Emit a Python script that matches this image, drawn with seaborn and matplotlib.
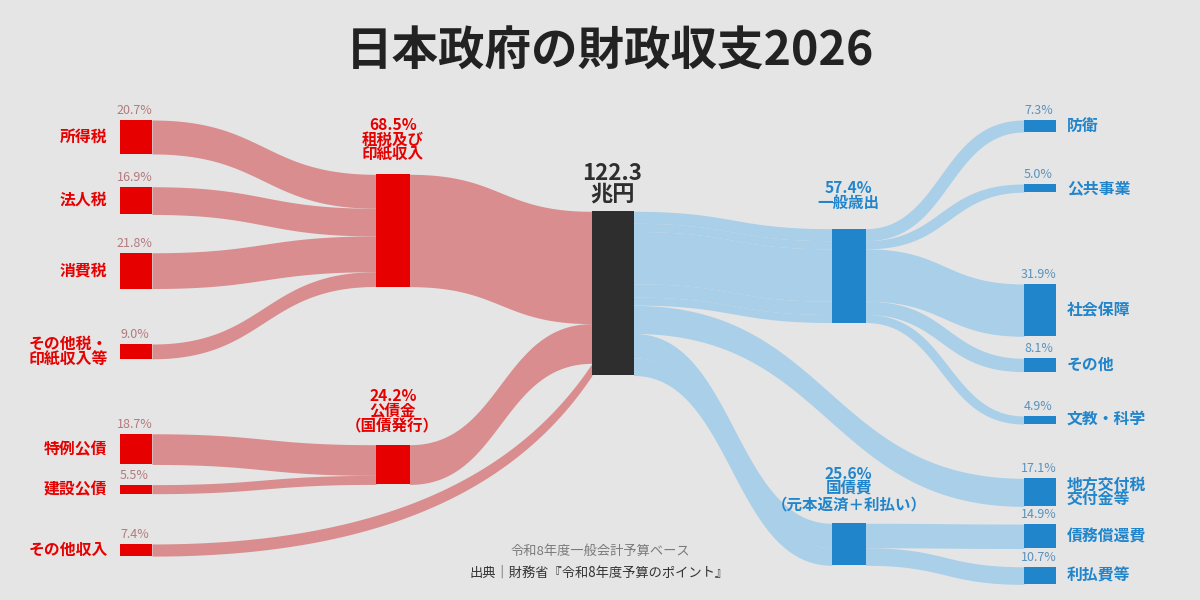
#!/usr/bin/env python3

import numpy as np
import seaborn as sns
import matplotlib.pyplot as plt

BG_COLOR    = '#E5E5E5'
RED         = '#E60000'
RED_FLOW    = '#D98D8E'
RED_PCT     = '#B57A7E'
BLUE        = '#2185CC'
BLUE_FLOW   = '#A9CFE9'
BLUE_PCT    = '#5A92BC'
DARK        = '#2E2E2E'
FONT        = ['Noto Sans CJK JP', 'DejaVu Sans']

# px per percentage point
SCALE = 164 / 100

# Revenue side
TAX_NAMES  = [['所得税'], ['法人税'], ['消費税'], ['その他税・', '印紙収入等']]
TAX_VALUES = [20.7, 16.9, 21.8, 9.0]
BOND_NAMES  = [['特例公債'], ['建設公債']]
BOND_VALUES = [18.7, 5.5]
OTHER_NAME  = ['その他収入']
OTHER_VALUE = 7.4

TAX_TOTAL  = 68.5
BOND_TOTAL = 24.2
TOTAL_LABEL = ['122.3', '兆円']

# Spending side
GENERAL_NAMES  = [['防衛'], ['公共事業'], ['社会保障'], ['その他'], ['文教・科学']]
GENERAL_VALUES = [7.3, 5.0, 31.9, 8.1, 4.9]
LOCAL_NAME  = ['地方交付税', '交付金等']
LOCAL_VALUE = 17.1
DEBT_NAMES  = [['債務償還費'], ['利払費等']]
DEBT_VALUES = [14.9, 10.7]

GENERAL_TOTAL = 57.4
DEBT_TOTAL    = 25.6

# Layout: columns (left edge, right edge) and the vertical gaps between nodes
COL_LEFT   = (120, 152)
COL_MID_L  = (376, 409.5)
COL_CENTER = (592, 633.5)
COL_MID_R  = (832, 865.5)
COL_RIGHT  = (1024, 1056)

LEFT_START  = 120
LEFT_GAPS   = [32.8, 38.3, 55.5, 75, 20.2, 50.3]
RIGHT_START = 120
RIGHT_GAPS  = [52, 91.8, 22, 44.4, 54.3, 17.7, 18.3]

TAX_TOP     = 174.3
BOND_TOP    = 444.7
CENTER_TOP  = 211.3
GENERAL_TOP = 228.7
DEBT_TOP    = 523.3

# The その他収入 link does not leave the centre node flat
OTHER_BEND = (0.564, 0.0, 0.847, 0.442)

# Steep thin links get fatter halfway along (px)
GENERAL_SWELL = [9, 5, 0, 4, 7]
DEBT_SWELL    = 4

sns.set_theme(style='white')
plt.rcParams['font.family'] = FONT

fig, ax = plt.subplots(figsize=(12, 6), dpi=100)
fig.patch.set_facecolor(BG_COLOR)
ax.set_position([0, 0, 1, 1])
ax.set_facecolor(BG_COLOR)


def stack(start, values, gaps=None):
    tops = []
    y = start
    for i, v in enumerate(values):
        tops.append(y)
        y += v * SCALE
        if gaps is not None and i < len(gaps):
            y += gaps[i]
    return tops


def ribbon(col0, top0, col1, top1, value, color, bend=(0.5, 0.0, 0.5, 1.0), swell=0):
    # Band along a cubic, same vertical thickness at both ends
    x0, x1 = col0[1], col1[0]
    xa = x0 + bend[0] * (x1 - x0)
    xb = x0 + bend[2] * (x1 - x0)
    ya = top0 + bend[1] * (top1 - top0)
    yb = top0 + bend[3] * (top1 - top0)
    t = np.linspace(0, 1, 200)
    xs = (1-t)**3 * x0 + 3*(1-t)**2*t * xa + 3*(1-t)*t**2 * xb + t**3 * x1
    ys = (1-t)**3 * top0 + 3*(1-t)**2*t * ya + 3*(1-t)*t**2 * yb + t**3 * top1
    extra = swell * np.sin(np.pi * t)**2 / 2
    ax.fill_between(xs, ys - extra, ys + value * SCALE + extra, color=color, linewidth=0)


def node(col, top, value, color):
    sns.barplot(
        x=[(col[0] + col[1]) / 2], y=[value * SCALE], ax=ax, native_scale=True,
        width=col[1] - col[0], bottom=top, color=color, saturation=1,
        errorbar=None, linewidth=0, zorder=3,
    )


def put_lines(x, y, lines, pitch, **kw):
    kw.setdefault('va', 'center')
    for i, line in enumerate(lines):
        ax.text(x, y + i * pitch, line, zorder=4, **kw)


left_values = TAX_VALUES + BOND_VALUES + [OTHER_VALUE]
left_names  = TAX_NAMES + BOND_NAMES + [OTHER_NAME]
left_tops   = stack(LEFT_START, left_values, LEFT_GAPS)

right_values = GENERAL_VALUES + [LOCAL_VALUE] + DEBT_VALUES
right_names  = GENERAL_NAMES + [LOCAL_NAME] + DEBT_NAMES
right_tops   = stack(RIGHT_START, right_values, RIGHT_GAPS)

# Revenue flows
for top, dst, v in zip(left_tops[:4], stack(TAX_TOP, TAX_VALUES), TAX_VALUES):
    ribbon(COL_LEFT, top, COL_MID_L, dst, v, RED_FLOW)
for top, dst, v in zip(left_tops[4:6], stack(BOND_TOP, BOND_VALUES), BOND_VALUES):
    ribbon(COL_LEFT, top, COL_MID_L, dst, v, RED_FLOW)

in_tops = stack(CENTER_TOP, [TAX_TOTAL, BOND_TOTAL, OTHER_VALUE])
ribbon(COL_MID_L, TAX_TOP, COL_CENTER, in_tops[0], TAX_TOTAL, RED_FLOW)
ribbon(COL_MID_L, BOND_TOP, COL_CENTER, in_tops[1], BOND_TOTAL, RED_FLOW)
ribbon(COL_LEFT, left_tops[6], COL_CENTER, in_tops[2], OTHER_VALUE, RED_FLOW, bend=OTHER_BEND)

# Spending flows, split by destination so the seams show up
out_tops = stack(CENTER_TOP, [GENERAL_TOTAL, LOCAL_VALUE, DEBT_TOTAL])
general_src = stack(out_tops[0], GENERAL_VALUES)
general_dst = stack(GENERAL_TOP, GENERAL_VALUES)
for src, mid, top, v, swell in zip(general_src, general_dst, right_tops[:5], GENERAL_VALUES, GENERAL_SWELL):
    ribbon(COL_CENTER, src, COL_MID_R, mid, v, BLUE_FLOW)
    ribbon(COL_MID_R, mid, COL_RIGHT, top, v, BLUE_FLOW, swell=swell)

ribbon(COL_CENTER, out_tops[1], COL_RIGHT, right_tops[5], LOCAL_VALUE, BLUE_FLOW)

debt_src = stack(out_tops[2], DEBT_VALUES)
debt_dst = stack(DEBT_TOP, DEBT_VALUES)
for src, mid, top, v in zip(debt_src, debt_dst, right_tops[6:], DEBT_VALUES):
    ribbon(COL_CENTER, src, COL_MID_R, mid, v, BLUE_FLOW, swell=DEBT_SWELL)
    ribbon(COL_MID_R, mid, COL_RIGHT, top, v, BLUE_FLOW)

# Nodes
for top, v in zip(left_tops, left_values):
    node(COL_LEFT, top, v, RED)
node(COL_MID_L, TAX_TOP, TAX_TOTAL, RED)
node(COL_MID_L, BOND_TOP, BOND_TOTAL, RED)
node(COL_CENTER, CENTER_TOP, TAX_TOTAL + BOND_TOTAL + OTHER_VALUE, DARK)
node(COL_MID_R, GENERAL_TOP, GENERAL_TOTAL, BLUE)
node(COL_MID_R, DEBT_TOP, DEBT_TOTAL, BLUE)
for top, v in zip(right_tops, right_values):
    node(COL_RIGHT, top, v, BLUE)

# Side labels
for top, v, name in zip(left_tops, left_values, left_names):
    ax.text(134.5, top - 9.5, f'{v:.1f}%', ha='center', va='center', fontsize=9, color=RED_PCT)
    mid = top + v * SCALE / 2 - 7.75 * (len(name) - 1)
    put_lines(107.5, mid, name, 15.5, ha='right', fontsize=11.4, fontweight='bold', color=RED)

for top, v, name in zip(right_tops, right_values, right_names):
    ax.text(1038.5, top - 9.5, f'{v:.1f}%', ha='center', va='center', fontsize=9, color=BLUE_PCT)
    mid = top + v * SCALE / 2 - 7.75 * (len(name) - 1)
    put_lines(1067, mid, name, 15.5, ha='left', fontsize=11.4, fontweight='bold', color=BLUE)

# Middle labels, y is the baseline of the first line
mid_kw = dict(ha='center', va='baseline', fontsize=11.2, fontweight='bold')
put_lines(sum(COL_MID_L) / 2, 130, [f'{TAX_TOTAL}%', '租税及び', '印紙収入'], 15, color=RED, **mid_kw)
put_lines(sum(COL_MID_L) / 2, 401, [f'{BOND_TOTAL}%', '公債金', '（国債発行）'], 15, color=RED, **mid_kw)
put_lines(sum(COL_MID_R) / 2, 193, [f'{GENERAL_TOTAL}%', '一般歳出'], 15, color=BLUE, **mid_kw)
put_lines(sum(COL_MID_R) / 2, 479, [f'{DEBT_TOTAL}%', '国債費', '（元本返済＋利払い）'], 15, color=BLUE, **mid_kw)
put_lines(612.5, 179.5, TOTAL_LABEL, 21, ha='center', va='baseline', fontsize=16,
          fontweight='bold', color=DARK)

# Title and footer
ax.text(610, 52, '日本政府の財政収支2026', ha='center', va='center',
        fontsize=33.5, fontweight='bold', color='#222222')
ax.text(600, 551, '令和8年度一般会計予算ベース', ha='center', va='center',
        fontsize=9.5, color='#7A7A7A')
ax.text(599.5, 573, '出典｜財務省『令和8年度予算のポイント』', ha='center', va='center',
        fontsize=9.55, color='#333333')

ax.set_xlim(0, 1200)
ax.set_ylim(600, 0)
ax.set_xlabel('')
ax.set_ylabel('')
ax.axis('off')

fig.savefig('out.png', dpi=100, facecolor=BG_COLOR)
